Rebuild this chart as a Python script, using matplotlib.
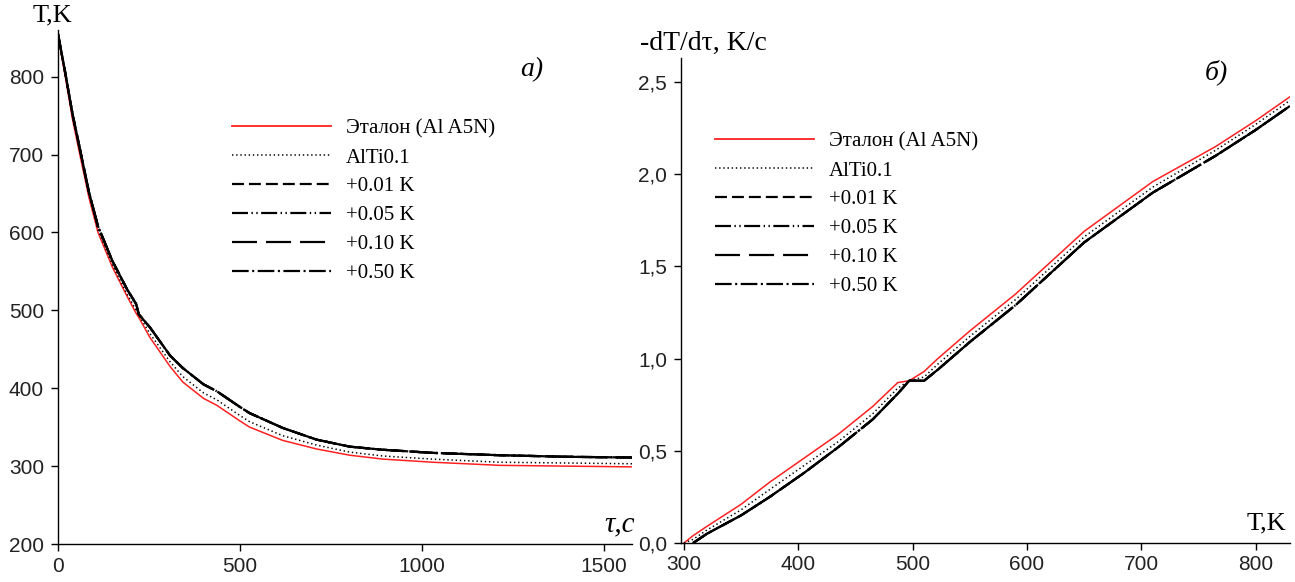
import matplotlib
matplotlib.use("Agg")
import matplotlib.pyplot as plt
from matplotlib.ticker import FixedLocator, FuncFormatter

# ---- data: cooling curves T(tau) ----
tau = [0, 10, 20, 40, 60, 85, 110, 150, 190, 215, 222, 253, 308, 343, 400,
       437, 500, 527, 618, 711, 802, 893, 1030, 1214, 1398, 1585]
T_ref = [855, 826, 800, 745, 700, 645, 600, 555, 518, 496, 491, 465, 428, 408,
         387, 378, 358, 350, 333, 322, 314, 309, 305, 301, 300, 299]
T_alti = [855, 828, 802, 748, 703, 648, 603, 558, 521, 500, 494, 470, 434, 415,
          394, 385, 365, 357, 339, 327, 318, 313, 309, 305, 304, 303]
T_shift = [855, 830, 805, 752, 708, 652, 608, 563, 527, 508, 495, 478, 442, 426,
           405, 396, 376, 368, 349, 334, 325, 321, 317, 314, 312, 311]

# ---- data: cooling rate -dT/dtau vs T ----
temp_ref = [300, 308, 320, 350, 375, 405, 435, 465, 487, 497, 510, 522, 550,
            590, 650, 710, 765, 800, 830]
rate_ref = [0.00, 0.04, 0.09, 0.21, 0.33, 0.46, 0.59, 0.74, 0.87, 0.88, 0.93,
            1.00, 1.15, 1.35, 1.69, 1.96, 2.15, 2.29, 2.42]
rate_alti = [0.00, 0.02, 0.07, 0.18, 0.29, 0.42, 0.55, 0.70, 0.84, 0.88, 0.90,
             0.97, 1.12, 1.32, 1.66, 1.93, 2.13, 2.27, 2.40]
temp_shift = [308, 320, 350, 375, 405, 435, 465, 487, 497, 510, 522, 550, 590,
              650, 710, 765, 800, 830]
rate_shift = [0.00, 0.05, 0.15, 0.25, 0.38, 0.52, 0.67, 0.81, 0.88, 0.88, 0.94,
              1.09, 1.29, 1.63, 1.90, 2.10, 2.24, 2.37]

labels = ["Эталон (Al A5N)", "AlTi0.1", "+0.01 K", "+0.05 K", "+0.10 K", "+0.50 K"]
shift_dashes = [(8.6, 3.6), (11.5, 2.5, 1, 2.5, 1, 2.5), (18, 6.5), (12, 2.5, 1.5, 2.5)]

left_xticks = [0, 500, 1000, 1500]
left_yticks = [200, 300, 400, 500, 600, 700, 800]
right_xticks = [300, 400, 500, 600, 700, 800]
right_yticks = [0.0, 0.5, 1.0, 1.5, 2.0, 2.5]

plt.rcParams["lines.scale_dashes"] = False
W, H = 1295, 582
fig = plt.figure(figsize=(W / 100, H / 100), dpi=100)

SERIF = ["Liberation Serif", "DejaVu Serif"]
SANS = ["Liberation Sans", "DejaVu Sans"]


def px_box(x0, y0, x1, y1):
    return [x0 / W, 1 - y1 / H, (x1 - x0) / W, (y1 - y0) / H]


def style_axes(ax, xticks, yticks, yfmt):
    for s in ("top", "right"):
        ax.spines[s].set_visible(False)
    for s in ("left", "bottom"):
        ax.spines[s].set_linewidth(1.0)
    ax.xaxis.set_major_locator(FixedLocator(xticks))
    ax.yaxis.set_major_locator(FixedLocator(yticks))
    ax.yaxis.set_major_formatter(FuncFormatter(yfmt))
    ax.xaxis.set_major_formatter(FuncFormatter(lambda v, p: f"{v:g}"))
    ax.tick_params(direction="out", length=5, width=1, labelsize=15)
    ax.tick_params(axis="x", pad=4)
    ax.tick_params(axis="y", pad=5)
    for lab in ax.get_xticklabels() + ax.get_yticklabels():
        lab.set_family(SANS)
        lab.set_color("#222222")


def draw_series(ax, x_ref, y_ref, x_alti, y_alti, x_sh, y_sh):
    handles = []
    h, = ax.plot(x_ref, y_ref, color="#ff2020", lw=1.1)
    handles.append(h)
    h, = ax.plot(x_alti, y_alti, color="black", lw=1.1, linestyle=(0, (1, 2)))
    handles.append(h)
    for d in shift_dashes:
        h, = ax.plot(x_sh, y_sh, color="black", lw=1.6)
        h.set_dashes(d)
        handles.append(h)
    return handles


LEG = dict(bbox_transform=fig.transFigure, frameon=False,
           prop={"family": SERIF, "size": 15}, handlelength=4.75,
           handletextpad=0.7, labelspacing=0.45, borderpad=0, borderaxespad=0)

# ---- panel a) ----
ax1 = fig.add_axes(px_box(58, 30, 632, 544))
hs = draw_series(ax1, tau, T_ref, tau, T_alti, tau, T_shift)
ax1.set_xlim(0, 1578)
ax1.set_ylim(200, 860)
style_axes(ax1, left_xticks, left_yticks, lambda v, p: f"{v:g}")
leg1 = ax1.legend(hs, labels, loc="upper left",
                  bbox_to_anchor=(232 / W, 1 - 119 / H), **LEG)
leg1.legend_handles[0].set_linewidth(1.3)

# ---- panel б) ----
ax2 = fig.add_axes(px_box(681, 58, 1290, 543))
hs2 = draw_series(ax2, temp_ref, rate_ref, temp_ref, rate_alti, temp_shift, rate_shift)
ax2.set_xlim(297.4, 830)
ax2.set_ylim(0, 2.63)
style_axes(ax2, right_xticks, right_yticks, lambda v, p: f"{v:.1f}".replace(".", ","))
leg2 = ax2.legend(hs2, labels, loc="upper left",
                  bbox_to_anchor=(715 / W, 1 - 132 / H), **LEG)
leg2.legend_handles[0].set_linewidth(1.3)


def ftext(x, y, s, **kw):
    fig.text(x / W, 1 - y / H, s, **kw)


ftext(33, 15, "T,K", family=SERIF, size=19, va="center", ha="left")
ftext(640, 43, "-dT/dτ, K/c", family=SERIF, size=20, va="center", ha="left")
ftext(532, 70, "а)", family=SERIF, style="italic", size=20, va="center", ha="center")
ftext(1216, 72, "б)", family=SERIF, style="italic", size=20, va="center", ha="center")
ftext(620, 524, "τ,c", family=SERIF, style="italic", size=21, va="center", ha="center")
ftext(1266, 523, "T,K", family=SERIF, size=19, va="center", ha="center")

fig.savefig("out.png", dpi=100)
